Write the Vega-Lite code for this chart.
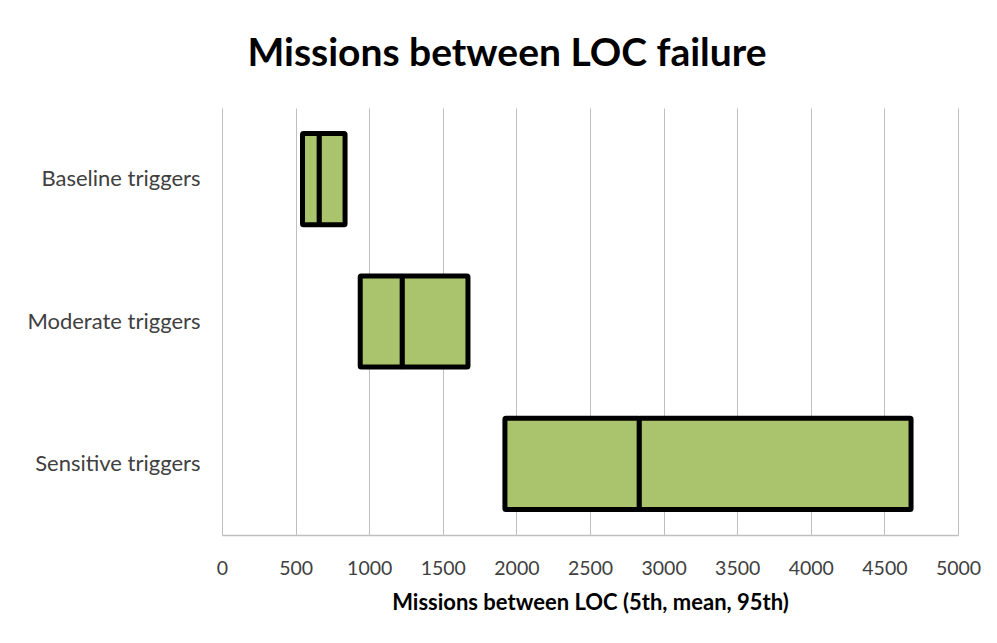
{
  "$schema": "https://vega.github.io/schema/vega-lite/v6.json",
  "width": 736,
  "height": 427,
  "autosize": {"type": "none"},
  "padding": {"left": 222, "top": 108, "right": 39, "bottom": 108},
  "background": "white",
  "title": {
    "text": "Missions between LOC failure",
    "font": "Lato",
    "fontSize": 39,
    "fontWeight": "bold",
    "color": "#000000",
    "anchor": "middle",
    "dx": -83,
    "offset": 34
  },
  "data": {
    "values": [
      {"scenario": "Baseline triggers", "p5": 547, "mean": 661, "p95": 836},
      {"scenario": "Moderate triggers", "p5": 939, "mean": 1225, "p95": 1671},
      {"scenario": "Sensitive triggers", "p5": 1922, "mean": 2835, "p95": 4681}
    ]
  },
  "encoding": {
    "y": {
      "field": "scenario",
      "type": "nominal",
      "sort": null,
      "scale": {"paddingInner": 0.36, "paddingOuter": 0.18},
      "axis": {
        "title": null,
        "domain": false,
        "ticks": false,
        "grid": false,
        "labelFont": "Lato",
        "labelFontSize": 22,
        "labelColor": "#404040",
        "labelPadding": 22
      }
    }
  },
  "layer": [
    {
      "mark": {"type": "bar", "fill": "#A9C46C", "stroke": "#000000", "strokeWidth": 5, "strokeJoin": "round", "cornerRadius": 1},
      "encoding": {
        "x": {
          "field": "p5",
          "type": "quantitative",
          "scale": {"domain": [0, 5000], "nice": false},
          "axis": {
            "title": "Missions between LOC (5th, mean, 95th)",
            "titleFont": "Lato",
            "titleFontSize": 22,
            "titleFontWeight": "bold",
            "titleColor": "#000000",
            "titlePadding": 15,
            "values": [0, 500, 1000, 1500, 2000, 2500, 3000, 3500, 4000, 4500, 5000],
            "format": "d",
            "labelFont": "Lato",
            "labelFontSize": 19.5,
            "labelColor": "#404040",
            "labelPadding": 24,
            "labelFlush": false,
            "ticks": false,
            "grid": true,
            "gridColor": "#BFBFBF",
            "gridWidth": 1,
            "domainColor": "#BFBFBF",
            "domainWidth": 1.5
          }
        },
        "x2": {"field": "mean"}
      }
    },
    {
      "mark": {"type": "bar", "fill": "#A9C46C", "stroke": "#000000", "strokeWidth": 5, "strokeJoin": "round", "cornerRadius": 1},
      "encoding": {
        "x": {"field": "mean", "type": "quantitative"},
        "x2": {"field": "p95"}
      }
    }
  ],
  "config": {
    "view": {"stroke": null}
  }
}
